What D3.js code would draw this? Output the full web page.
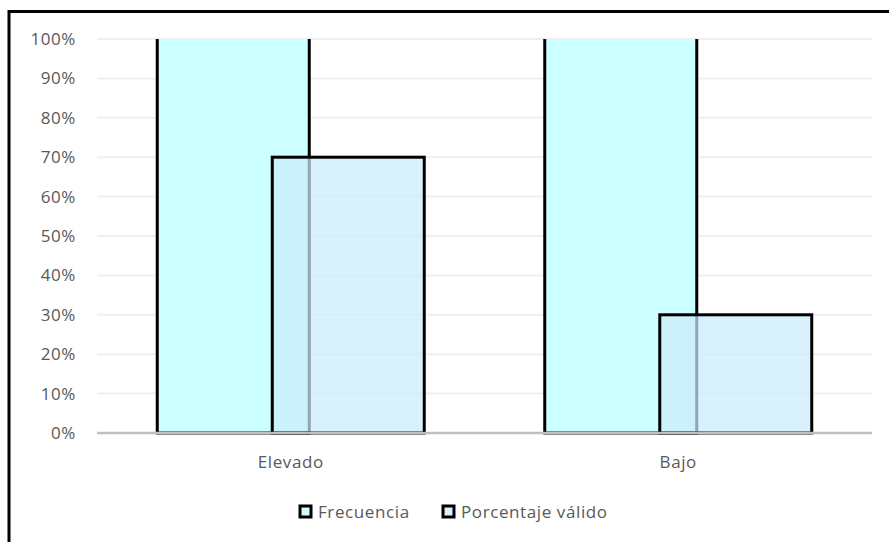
<!DOCTYPE html>
<html><head><meta charset="utf-8">
<script src="https://cdn.jsdelivr.net/npm/d3@7"></script>
<style>
html,body{margin:0;padding:0;background:#fff;}
svg{display:block;}
</style></head>
<body>
<svg id="chart" width="889" height="542"></svg>
<script>
const categories = ["Elevado", "Bajo"];
const seriesNames = ["Frecuencia", "Porcentaje válido"];
const frecuencia = [14, 6];
const porcentajeValido = [0.70, 0.30];
const yTicks = [0, 0.1, 0.2, 0.3, 0.4, 0.5, 0.6, 0.7, 0.8, 0.9, 1.0];

const seriesValues = [frecuencia, porcentajeValido];
const fills = ["#CCFFFF", "rgba(201,235,251,0.71)"];
const FONT = "'Open Sans', 'Noto Sans', sans-serif";
const FS = 17, LS = "0.6px", TXT = "#595959";

const svg = d3.select("#chart");
const W = 889, H = 542;
const plot = {left: 97, right: 872, top: 39, bottom: 433};

svg.append("rect").attr("x",0).attr("y",0).attr("width",W).attr("height",H).attr("fill","#fff");

const x = d3.scaleBand().domain(categories).range([plot.left, plot.right]).padding(0);
const y = d3.scaleLinear().domain([0, 1]).range([plot.bottom, plot.top]);

const barW = 152, step = 115;
const groupW = barW + step * (seriesNames.length - 1);

// gridlines
svg.append("g").selectAll("line").data(yTicks.filter(d => d > 0)).join("line")
  .attr("x1", plot.left).attr("x2", plot.right)
  .attr("y1", d => y(d)).attr("y2", d => y(d))
  .attr("stroke", "#EFEFEF").attr("stroke-width", 2);

// y axis labels
const yAxis = d3.axisLeft(y).tickValues(yTicks).tickFormat(d3.format(".0%")).tickSize(0).tickPadding(0);
const ya = svg.append("g").attr("transform", `translate(${76},0)`).call(yAxis);
ya.select(".domain").remove();
ya.selectAll("text").attr("fill", TXT).attr("font-size", FS).attr("font-family", FONT).attr("letter-spacing", LS);

// clip
svg.append("defs").append("clipPath").attr("id","pc").append("rect")
  .attr("x", plot.left).attr("y", plot.top).attr("width", plot.right - plot.left).attr("height", plot.bottom - plot.top + 2);

const bars = svg.append("g").attr("clip-path","url(#pc)");
seriesNames.forEach((s, i) => {
  bars.append("g").selectAll("rect").data(categories.map((c, j) => ({c, v: seriesValues[i][j]}))).join("rect")
    .attr("x", d => x(d.c) + (x.bandwidth() - groupW) / 2 + i * step)
    .attr("width", barW)
    .attr("y", d => y(Math.min(d.v, 1.2)))
    .attr("height", d => y(0) - y(Math.min(d.v, 1.2)))
    .attr("fill", fills[i])
    .attr("stroke", "#000").attr("stroke-width", 3);
});

// x axis line
svg.append("line").attr("x1", plot.left).attr("x2", plot.right)
  .attr("y1", y(0)).attr("y2", y(0)).attr("stroke", "#BFBFBF").attr("stroke-width", 2.5);

// x labels
const xAxis = d3.axisBottom(x).tickSize(0).tickPadding(0);
const xa = svg.append("g").attr("transform", `translate(0,${462})`).call(xAxis);
xa.select(".domain").remove();
xa.selectAll("text").attr("fill", TXT).attr("font-size", FS).attr("dy", "0.35em").attr("font-family", FONT).attr("letter-spacing", LS);

// legend
const legendX = [299, 442];
const lg = svg.append("g");
seriesNames.forEach((s, i) => {
  const g = lg.append("g").attr("transform", `translate(${legendX[i]},${506})`);
  g.append("rect").attr("x", 1).attr("y", 0).attr("width", 11).attr("height", 11)
    .attr("fill", i === 0 ? "#CCFFFF" : "#DAF1FC").attr("stroke", "#000").attr("stroke-width", 3);
  g.append("text").attr("x", 19).attr("y", 6).attr("dy", "0.35em")
    .attr("fill", TXT).attr("font-size", FS).attr("font-family", FONT).attr("letter-spacing", LS).text(s);
});

// outer border (chart area, clipped by image)
svg.append("rect").attr("x", 9).attr("y", 11.5).attr("width", 1000).attr("height", 1000)
  .attr("fill", "none").attr("stroke", "#000").attr("stroke-width", 3);
</script>
</body></html>
